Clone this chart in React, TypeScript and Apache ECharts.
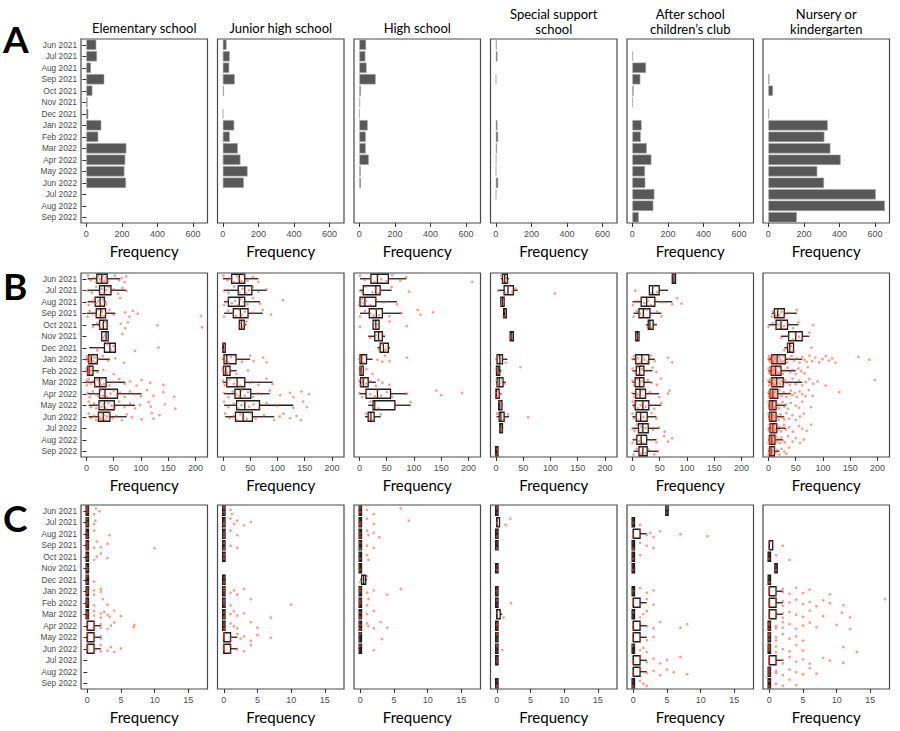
import React, { useEffect, useRef } from "react";
import * as echarts from "echarts";

// ---------- categories ----------
const months = [
  "Jun 2021", "Jul 2021", "Aug 2021", "Sep 2021", "Oct 2021", "Nov 2021", "Dec 2021",
  "Jan 2022", "Feb 2022", "Mar 2022", "Apr 2022", "May 2022", "Jun 2022",
  "Jul 2022", "Aug 2022", "Sep 2022",
];
const facetTitles = [
  ["Elementary school"],
  ["Junior high school"],
  ["High school"],
  ["Special support", "school"],
  ["After school", "children\u2019s club"],
  ["Nursery or", "kindergarten"],
];
const panelLetters = ["A", "B", "C"];
const xLabel = "Frequency";
const ticksA = [0, 200, 400, 600];
const ticksB = [0, 50, 100, 150, 200];
const ticksC = [0, 5, 10, 15];

// ---------- Row A: bar counts ----------
const elementaryA = [56, 60, 26, 101, 34, 7, 11, 84, 67, 225, 219, 214, 223, null, null, null];
const juniorA = [21, 39, 36, 67, 6, null, 2, 64, 39, 84, 99, 139, 118, null, null, null];
const highA = [38, 34, 41, 92, 9, 4, 2, 47, 36, 36, 53, 8, 9, null, null, null];
const specialA = [5, 9, null, 2, null, null, null, 9, 13, 7, 3, 2, 13, 2, null, null];
const afterA = [null, 3, 77, 45, 7, 2, null, 52, 47, 81, 107, 71, 73, 124, 118, 36];
const nurseryA = [null, null, null, 6, 26, null, 4, 334, 315, 349, 406, 275, 313, 604, 655, 160];

// ---------- Row B: box stats [min, q1, median, q3, max] ----------
const elementaryBoxB = [[2,19,28,38,62],[2,24,33,45,73],[2,16,25,33,36],[1,18,26,35,53],[10,24,31,38,38],[28,28,36,40,40],[5,33,43,53,53],[0,4,9,20,43],[0,2,5,12,23],[0,15,24,36,71],[2,24,34,57,101],[4,23,33,51,89],[4,22,31,43,74],null,null,null];
const juniorBoxB = [[0,16,30,40,65],[2,28,40,53,80],[2,10,30,40,68],[2,19,32,46,73],[30,30,34,39,43],null,[0,0,1,4,4],[0,2,7,24,50],[0,1,5,13,25],[0,7,26,40,91],[2,22,32,51,86],[2,25,40,67,129],[4,23,37,54,94],null,null,null];
const highBoxB = [[1,21,33,53,86],[1,7,30,38,59],[0,1,10,30,69],[1,18,31,42,77],[25,25,30,36,36],[16,28,35,42,47],[33,38,44,53,56],[0,1,4,13,24],[0,1,3,7,7],[0,2,7,16,30],[0,12,33,57,87],[16,25,28,65,94],[10,16,21,27,39],null,null,null];
const specialBoxB = [[9,12,16,21,24],[4,15,22,32,40],[9,9,12,15,15],[14,14,16,19,19],null,[26,26,29,32,32],null,[0,2,7,12,21],[0,1,4,7,10],[0,2,6,13,18],[0,0,1,6,10],[5,5,7,11,11],[1,6,9,15,24],[7,7,9,12,12],null,[0,0,1,3,3]];
const afterBoxB = [[73,73,76,79,79],[31,31,37,49,65],[0,16,26,41,73],[2,12,20,32,53],[25,29,32,38,45],[6,6,9,12,12],null,[0,6,17,30,41],[0,7,13,21,37],[0,5,13,21,35],[0,6,14,24,49],[0,5,19,30,53],[0,7,15,27,44],[0,11,19,29,49],[0,8,16,26,44],[2,12,19,27,47]];
const nurseryBoxB = [null,null,null,[6,11,17,29,52],[0,14,23,35,55],[23,37,50,62,75],[29,35,39,46,46],[0,6,16,31,62],[0,5,13,23,50],[0,6,15,27,62],[0,3,8,17,41],[0,2,7,14,32],[0,2,6,14,29],[0,3,8,15,32],[0,2,6,12,26],[0,2,5,11,20]];

// ---------- Row B: individual observations ----------
const elementaryPtsB = [
  [3,8,14,18,22,25,27,30,33,36,40,46,52,60,65,70,73],
  [3,10,18,24,28,32,36,40,44,50,58,66,73],
  [4,10,15,18,22,26,30,34,36,62],
  [2,6,12,18,22,25,28,32,36,42,50,71,79,85,94,210],
  [12,20,25,30,34,38,63,71,76,130,212],
  [30,34,38,66],
  [20,38,45,50,89,132],
  [0,1,2,3,4,5,6,8,10,12,15,18,22,30,40,53,69],
  [0,1,2,3,4,5,7,9,12,20,31,50],
  [0,1,2,4,8,12,16,20,24,26,28,32,36,42,50,60,70,80,92,101,117,141],
  [2,6,12,18,22,26,30,34,38,44,50,56,62,70,80,90,100,111,123,141,161],
  [4,8,14,18,22,25,28,32,36,40,46,52,60,70,80,89,98,114,118,144,163],
  [4,8,14,18,22,24,26,28,30,32,35,38,42,48,55,65,74,83,101,120,123,134],
  null, null, null,
];
const juniorPtsB = [
  [1,8,15,20,26,30,34,38,45,55,65],
  [2,10,20,30,36,42,48,55,65,80],
  [2,6,10,16,22,28,32,38,45,55,68,110],
  [2,10,18,24,30,34,40,46,55,73,88],
  [30,33,36,40,43],
  null,
  [0,1,3],
  [0,2,4,7,10,15,24,35,50,56,74,80],
  [0,1,3,5,8,13,25,46],
  [0,3,7,12,20,26,32,40,50,65,80,91],
  [2,10,18,24,30,34,40,46,55,65,86,105,123,129,144,158],
  [2,10,20,28,34,40,48,56,67,80,100,129,147,154],
  [4,12,20,26,32,37,44,50,60,75,94,104,111,123,135,143],
  null, null, null,
];
const highPtsB = [
  [1,10,20,28,33,40,50,60,75,86,207],
  [1,5,12,24,30,34,40,59,91],
  [0,2,5,8,12,20,30,45,69],
  [1,10,20,26,31,36,42,55,77,107,112,135],
  [1,26,30,34,55,87],
  [20,30,36,42],
  [36,42,48,52],
  [0,1,2,4,8,13,33,42,47,55,87],
  [0,1,2,3,5,13,24],
  [0,2,5,8,12,20,30,35,42,55],
  [0,5,12,20,28,33,40,50,60,87,141,150,188],
  [20,26,28,35,70,94],
  [12,18,21,25,39],
  null, null, null,
];
const specialPtsB = [
  [10,14,18,22], [4,16,22,30,36,108], [10,13], [15,17], null, [27,30], null,
  [1,4,8,12,18], [1,3,5,45], [1,4,8,12,16], [0,2,5,8], [6,9], [2,7,10,14,22,59], [8,11], null, [0,2],
];
const afterPtsB = [
  [76], [5,33,38,45], [1,8,16,22,28,34,42,55,73,82,90], [2,8,14,20,26,32,45,53], [28,32,36,42], [8,10], null,
  [0,3,6,10,14,18,22,28,34,41,65,73],
  [0,3,7,10,13,17,21,28,37,44],
  [0,3,5,9,13,17,21,28,35,45,52],
  [0,3,6,10,14,18,24,32,49,65,68],
  [0,3,6,10,15,19,24,30,40,53],
  [0,3,7,11,15,20,27,35,44],
  [0,4,8,12,16,19,24,29,38,49,59],
  [0,4,8,12,16,20,26,35,44,58,65,73],
  [2,8,12,16,19,24,30,40,47],
];
const nurseryPtsB = [
  null, null, null,
  [6,9,11,14,17,20,24,29,36,52],
  [0,8,14,18,23,28,35,45,55,82],
  [23,37,45,50,56,62,75],
  [29,35,38,41,46,79],
  [0,1,2,3,4,5,6,7,8,9,10,11,12,13,15,16,18,20,22,24,27,29,31,34,38,42,47,52,57,62,66,70,75,80,86,93,99,105,111,117,123,165,185],
  [0,1,2,3,4,5,6,7,8,9,10,11,13,15,17,19,21,23,26,30,35,40,44,50,55,60,66,72],
  [0,1,2,3,4,5,6,7,8,9,10,12,13,15,17,19,21,24,27,30,34,39,44,50,56,62,68,75,82,90,105,195],
  [0,1,1,2,3,3,4,5,6,7,8,9,10,11,13,15,17,20,24,28,33,37,41,44,48,52,57,62,68,74,81,130],
  [0,1,1,2,3,4,5,6,7,8,9,10,12,14,16,19,22,26,29,32,36,41,50,56,62,78],
  [0,1,1,2,3,4,5,6,7,8,9,10,12,14,16,19,22,25,29,33,38,44,50,58,65],
  [0,1,2,3,3,4,5,6,7,8,9,10,12,13,15,17,20,23,26,29,32,38,45,56,62,70,78],
  [0,1,1,2,3,4,5,6,7,8,9,10,11,12,14,16,18,21,24,26,30,36,44,50,58,65],
  [0,1,2,3,4,5,6,7,9,11,13,16,20,24,29,33,38],
];

// ---------- Row C: box stats ----------
const Z = [0, 0, 0, 0, 0];
const elementaryBoxC = [Z,Z,Z,Z,Z,Z,Z,Z,Z,Z,[0,0,0,1,2],[0,0,0,1,2],[0,0,0,1,2],null,null,null];
const juniorBoxC = [Z,Z,Z,Z,Z,null,Z,Z,Z,Z,Z,[0,0,0,1,2],[0,0,0,1,2],null,null,null];
const highBoxC = [Z,Z,Z,Z,Z,Z,[0,0.2,0.5,0.8,1],Z,Z,Z,Z,Z,Z,null,null,null];
const specialBoxC = [Z,[0,0,0,0.4,0.4],Z,Z,null,Z,null,Z,Z,[0,0,0,0.5,0.8],Z,Z,Z,Z,null,Z];
const afterBoxC = [[5,5,5,5,5],Z,[0,0,0,1,2],Z,Z,Z,null,Z,[0,0,0,1,2],Z,[0,0,0,1,2],[0,0,0,1,2],Z,[0,0,0,1,2],[0,0,0,1,2],Z];
const nurseryBoxC = [null,null,null,[0,0,0,0.5,0.5],Z,[1,1,1,1,1],Z,[0,0,0,1,2],[0,0,0,1,2],[0,0,0,1,2],Z,Z,Z,[0,0,0,1,2],Z,Z];

// ---------- Row C: individual observations ----------
const elementaryPtsC = [
  [0,0,0,1,1.3,1.8],[0,0,0,1,1.2],[0,0,1,3.3],[0,0,0,1,1.4,2,3,10],[0,0,1,1.4,2,3],[0,0],[0,0,1],
  [0,0,0,1,1,2,2],[0,0,1,2.3,3],[0,0,0,1,1,2,2,2.5,3,3.3,4,5],[0,0,0,1,1,1,2,2,3,3.5,4,6.9,7],
  [0,0,0,1,1,1,2,2],[0,0,0,1,1,1,2,2,3,3.5,4,5],null,null,null,
];
const juniorPtsC = [
  [0,0,1,1.2],[0,0,1,1.5,2,3,4],[0,0,1,2],[0,0,1,2],[0,0],null,[0],
  [0,0,1,1.5,2,3],[0,0,1,4,10],[0,0,1,1.5,2,3,7],[0,0,1,1.5,2,4,5],
  [0,0,0,1,1,2,2.5,3,4,5,7],[0,0,0,1,1,2,3,4],null,null,null,
];
const highPtsC = [
  [0,0,1,2,6],[0,0,1,2,7.2],[0,0,1,1.2,2,2.8],[0,0,1,2],[0,1,1.2],[0],[0,1],
  [0,0,1,2,4,6],[0,0,1,1.2],[0,0,1,2],[0,0,1,1.2,2,3,4],[0,3.2],[0,2],null,null,null,
];
const specialPtsC = [
  [0],[0,1.3,2],[0],[0],null,[0],null,[0],[0,2.1],[0,1],[0],[0],[0,0.8],[0],null,[0],
];
const afterPtsC = [
  [5],[0,1],[0,0,1,2,2.5,3,4,7,11],[0,1,2,3],[0,1],[0],null,
  [0,1,2,3],[0,0,1,2,3],[0,1,1.5,2],[0,0,1,2,3,4,7,8],[0,0,1,2,3],[0,1,1.5,2],
  [0,0,1,2,3,4,5,7],[0,0,1,2,3,4,5,6,8],[0,1,1.5,2],
];
const nurseryPtsC = [
  null,null,null,[0,0,2],[0,1,3],[1],[0],
  [0,0,0,1,1,2,2,3,4,5,6,9],
  [0,0,0,1,1,2,2,3,4,5,6,7,8,9,11,17.2],
  [0,0,0,1,1,2,2,3,4,5,6,8,10.8,12],
  [0,0,0,1,1,2,2,3,4,5,6,7,10,12],
  [0,0,0,1,1,2,3,4,5],
  [0,0,0,1,1,2,3,4,5,11,13],
  [0,0,0,1,1,2,2,3,4,5,6,8,9,11],
  [0,0,0,1,1,2,3,4,5,6,7],
  [0,0,1,2,3,4],
];

const barRows = [elementaryA, juniorA, highA, specialA, afterA, nurseryA];
const boxRowsB = [elementaryBoxB, juniorBoxB, highBoxB, specialBoxB, afterBoxB, nurseryBoxB];
const ptsRowsB = [elementaryPtsB, juniorPtsB, highPtsB, specialPtsB, afterPtsB, nurseryPtsB];
const boxRowsC = [elementaryBoxC, juniorBoxC, highBoxC, specialBoxC, afterBoxC, nurseryBoxC];
const ptsRowsC = [elementaryPtsC, juniorPtsC, highPtsC, specialPtsC, afterPtsC, nurseryPtsC];

// ---------- layout / style ----------
const colLeft = [81, 217.5, 354, 490.5, 627, 763];
const panelW = 126.5;
const panelH = 184;
const rowTop = [39, 273, 505];
const rowRange = [
  { min: -30, max: 681, ticks: ticksA },
  { min: -10, max: 222, ticks: ticksB },
  { min: -0.94, max: 17.85, ticks: ticksC },
];
const jitterPattern = [-0.28, 0.12, -0.08, 0.3, -0.2, 0.04, 0.22, -0.32, 0.17, -0.14, 0.27, -0.02];
const bandPx = 11.5;
const inkColor = "#1e1e1e";
const pointColor = "rgba(255, 72, 40, 0.68)";

function boxItems(boxes: any[]) {
  const out: any[] = [];
  boxes.forEach((b, i) => {
    if (b) out.push([b[0], b[1], b[2], b[3], b[4], i]);
  });
  return out;
}

function pointItems(pts: any[]) {
  const out: any[] = [];
  pts.forEach((list, i) => {
    if (!list) return;
    list.forEach((v: number, k: number) => {
      out.push({
        value: [v, months[i]],
        symbolOffset: [0, jitterPattern[(k + i * 5) % jitterPattern.length] * bandPx],
      });
    });
  });
  return out;
}

function renderBox(params: any, api: any) {
  const yi = api.value(5);
  const pMin = api.coord([api.value(0), yi]);
  const pQ1 = api.coord([api.value(1), yi]);
  const pMed = api.coord([api.value(2), yi]);
  const pQ3 = api.coord([api.value(3), yi]);
  const pMax = api.coord([api.value(4), yi]);
  const band = api.size([0, 1])[1];
  const h = band * 0.78;
  const cy = pMed[1];
  let x1 = pQ1[0];
  let x2 = pQ3[0];
  if (x2 - x1 < 2.4) {
    const m = (x1 + x2) / 2;
    x1 = m - 1.2;
    x2 = m + 1.2;
  }
  const ls = { stroke: inkColor, lineWidth: 1.3 };
  return {
    type: "group",
    children: [
      { type: "line", shape: { x1: pMin[0], y1: cy, x2: x1, y2: cy }, style: ls },
      { type: "line", shape: { x1: x2, y1: cy, x2: pMax[0], y2: cy }, style: ls },
      { type: "rect", shape: { x: x1, y: cy - h / 2, width: x2 - x1, height: h }, style: { fill: "rgba(255,255,255,0)", stroke: inkColor, lineWidth: 1.3 } },
      { type: "line", shape: { x1: pMed[0], y1: cy - h / 2, x2: pMed[0], y2: cy + h / 2 }, style: ls },
    ],
  };
}

function buildOption() {
  const grid: any[] = [];
  const xAxis: any[] = [];
  const yAxis: any[] = [];
  const series: any[] = [];
  for (let r = 0; r < 3; r++) {
    for (let c = 0; c < 6; c++) {
      const g = r * 6 + c;
      grid.push({
        left: colLeft[c], top: rowTop[r], width: panelW, height: panelH,
        show: true, borderColor: "#4a4a4a", borderWidth: 1.2, backgroundColor: "#ffffff",
        containLabel: false,
      });
      const rr = rowRange[r];
      xAxis.push({
        type: "value", gridIndex: g, min: rr.min, max: rr.max,
        splitLine: { show: false },
        axisLine: { show: false },
        axisTick: { show: true, length: 4, lineStyle: { color: "#333", width: 1 }, customValues: rr.ticks },
        axisLabel: { customValues: rr.ticks, color: "#4d4d4d", fontSize: 9, margin: 6, fontFamily: "Liberation Sans, Arial, sans-serif" },
        name: xLabel, nameLocation: "middle", nameGap: 20,
        nameTextStyle: { fontSize: 15, color: "#000", fontFamily: "Lato, sans-serif" },
      });
      yAxis.push({
        type: "category", gridIndex: g, data: months, inverse: true, boundaryGap: true,
        axisLine: { show: false },
        axisTick: { show: c === 0, alignWithLabel: true, length: 4, interval: 0, lineStyle: { color: "#333", width: 1 } },
        axisLabel: { show: c === 0, interval: 0, color: "#4d4d4d", fontSize: 8.3, margin: 4, fontFamily: "Liberation Sans, Arial, sans-serif" },
        splitLine: { show: false },
      });
      if (r === 0) {
        series.push({
          type: "bar", xAxisIndex: g, yAxisIndex: g, data: barRows[c], barWidth: "90%",
          itemStyle: { color: "#585858", borderColor: "#a8a8a8", borderWidth: 0.6 },
          silent: true,
        });
      } else {
        const boxes = r === 1 ? boxRowsB[c] : boxRowsC[c];
        const pts = r === 1 ? ptsRowsB[c] : ptsRowsC[c];
        series.push({
          type: "custom", xAxisIndex: g, yAxisIndex: g,
          data: boxItems(boxes),
          encode: { x: [0, 1, 2, 3, 4], y: 5 },
          renderItem: renderBox, z: 2, silent: true,
        });
        series.push({
          type: "scatter", xAxisIndex: g, yAxisIndex: g,
          data: pointItems(pts),
          symbol: "circle", symbolSize: 2.7,
          itemStyle: { color: pointColor },
          z: 3, silent: true,
        });
      }
    }
  }

  const graphic: any[] = [];
  facetTitles.forEach((lines, c) => {
    const cx = colLeft[c] + panelW / 2;
    const ys = lines.length === 1 ? [28] : [13.5, 28.5];
    lines.forEach((t, k) => {
      graphic.push({
        type: "text", x: cx, y: ys[k],
        style: { text: t, fill: "#000", font: "13px Lato, sans-serif", textAlign: "center", textVerticalAlign: "middle" },
      });
    });
  });
  const letterY = [38.5, 285, 517.5];
  panelLetters.forEach((L, r) => {
    graphic.push({
      type: "text", x: 3, y: letterY[r],
      style: { text: L, fill: "#000", font: "bold 37px Lato, sans-serif", textAlign: "left", textVerticalAlign: "middle" },
    });
  });

  return { animation: false, backgroundColor: "#ffffff", grid, xAxis, yAxis, series, graphic };
}

export default function App() {
  const ref = useRef<HTMLDivElement>(null);
  useEffect(() => {
    const chart = echarts.init(ref.current!, null, { renderer: "svg" });
    chart.setOption(buildOption() as any);
    return () => chart.dispose();
  }, []);
  return (
    <div
      ref={ref}
      style={{ position: "absolute", left: 0, top: 0, width: 900, height: 731, background: "#fff" }}
    />
  );
}
